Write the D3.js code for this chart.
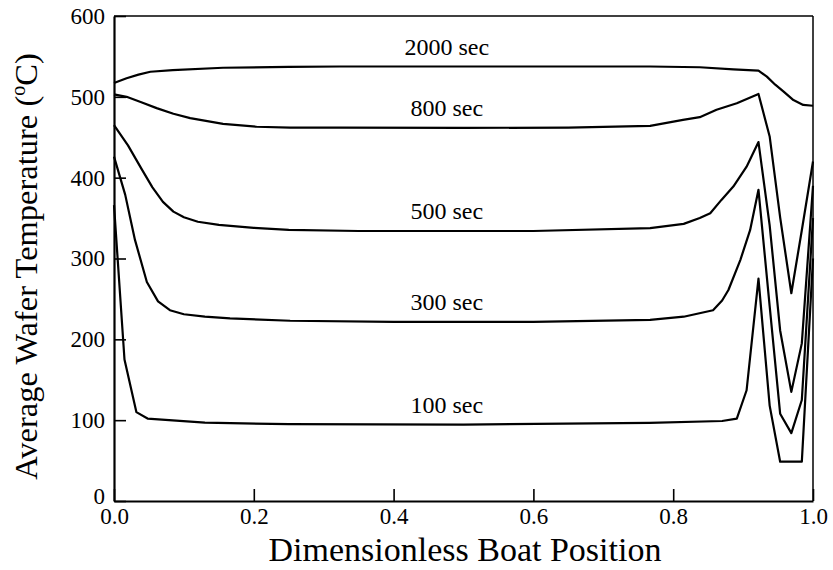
<!DOCTYPE html>
<html>
<head>
<meta charset="utf-8">
<script src="https://cdn.jsdelivr.net/npm/d3@7"></script>
<style>
  body { margin: 0; background: #fff; }
  text { font-family: "Liberation Serif", "DejaVu Serif", serif; fill: #000; }
</style>
</head>
<body>
<svg id="chart" width="833" height="570"></svg>
<script>
// Tick values and labels
const xTickValues = [0, 0.2, 0.4, 0.6, 0.8, 1.0];
const xTickLabels = ["0.0", "0.2", "0.4", "0.6", "0.8", "1.0"];
const yTickValues = [0, 100, 200, 300, 400, 500, 600];
const yTickLabels = ["0", "100", "200", "300", "400", "500", "600"];

// Series names (heating time)
const seriesNames = ["2000 sec", "800 sec", "500 sec", "300 sec", "100 sec"];

// Average wafer temperature (°C) along the boat, [position, temperature]
const t2000 = [[0,517],[0.018,523],[0.035,527.5],[0.052,531],[0.084,533],[0.156,536],[0.25,537],
  [0.323,537.5],[0.5,537.5],[0.7,537.5],[0.767,537.5],[0.838,536.6],[0.886,534],[0.922,532.5],
  [0.934,525],[0.946,515],[0.958,506.5],[0.972,496],[0.986,490],[1.0,489]];
const t800 = [[0,503],[0.018,500],[0.04,493],[0.061,486],[0.085,479],[0.109,473.6],[0.156,466.5],
  [0.204,463],[0.252,462],[0.323,462],[0.5,461.5],[0.65,462],[0.767,464],[0.814,471.5],
  [0.838,474.8],[0.862,484],[0.891,492],[0.922,503.6],[0.938,451],[0.953,351],[0.969,257],
  [0.984,335],[1.0,420]];
const t500 = [[0,465],[0.02,440],[0.04,410],[0.055,388],[0.07,370],[0.085,358],[0.1,351],
  [0.12,345.5],[0.15,341.5],[0.2,338],[0.25,335.5],[0.35,334],[0.6,334],[0.767,337.5],
  [0.815,342.8],[0.838,350],[0.853,356],[0.869,372.5],[0.886,389],[0.905,413.6],[0.922,444],
  [0.938,341],[0.953,211],[0.969,135],[0.984,195],[1.0,390]];
const t300 = [[0,426],[0.016,379],[0.03,323],[0.047,271],[0.063,247],[0.08,236],[0.1,231],
  [0.13,228],[0.166,226],[0.252,223],[0.4,221.5],[0.6,221.5],[0.767,224],[0.815,228],
  [0.857,236],[0.87,248],[0.879,261],[0.896,298],[0.91,335],[0.922,385],[0.938,241],
  [0.953,108],[0.969,84],[0.984,125],[1.0,350]];
const t100 = [[0,366],[0.015,175],[0.032,110],[0.048,102],[0.13,97],[0.25,95],[0.5,94.5],
  [0.766,96.7],[0.87,99],[0.891,102],[0.905,137],[0.922,275],[0.938,118],[0.953,48.6],
  [0.984,48.6],[1.0,300]];

const allSeries = [t2000, t800, t500, t300, t100];

const svg = d3.select("#chart");
const x = d3.scaleLinear().domain([0, 1]).range([114, 813]);
const y = d3.scaleLinear().domain([0, 600]).range([501, 16]);

// Frame
const [x0, x1] = x.range();
const [yb, yt] = y.range();
svg.append("line").attr("x1", x0).attr("x2", x1).attr("y1", yt).attr("y2", yt)
  .attr("stroke", "#000").attr("stroke-width", 1.5);
svg.append("line").attr("x1", x1).attr("x2", x1).attr("y1", yt).attr("y2", yb)
  .attr("stroke", "#000").attr("stroke-width", 1.5);

// Axes with inward ticks
const xAxis = d3.axisBottom(x).tickValues(xTickValues)
  .tickFormat((d, i) => xTickLabels[i]).tickSizeInner(-12).tickSizeOuter(0).tickPadding(7);
const yAxis = d3.axisLeft(y).tickValues(yTickValues)
  .tickFormat((d, i) => yTickLabels[i]).tickSizeInner(-12).tickSizeOuter(0).tickPadding(9);

const gx = svg.append("g").attr("transform", `translate(0,${yb})`).call(xAxis);
const gy = svg.append("g").attr("transform", `translate(${x0},0)`).call(yAxis);
[gx, gy].forEach(g => {
  g.select(".domain").attr("stroke", "#000").attr("stroke-width", 2.2);
  g.selectAll(".tick line").attr("stroke", "#000").attr("stroke-width", 1.6);
  g.selectAll(".tick text").attr("font-size", 23)
    .attr("font-family", "Liberation Serif, serif").attr("fill", "#000");
});
// The "0" label sits just above the corner
gy.selectAll(".tick text").filter(d => d === 0).attr("dy", "0.1em");

// Curves
const line = d3.line().x(d => x(d[0])).y(d => y(d[1])).curve(d3.curveLinear);
svg.append("g").selectAll("path").data(allSeries).join("path")
  .attr("d", line).attr("fill", "none").attr("stroke", "#000")
  .attr("stroke-width", 2.2).attr("stroke-linejoin", "round");

// Curve labels above the flat middle section
function valueAt(series, xv) {
  for (let i = 1; i < series.length; i++) {
    if (series[i][0] >= xv) {
      const [xa, va] = series[i - 1], [xb, vb] = series[i];
      return va + (vb - va) * (xv - xa) / (xb - xa);
    }
  }
  return series[series.length - 1][1];
}
const labelX = 0.476;
svg.append("g").selectAll("text").data(allSeries).join("text")
  .attr("x", x(labelX))
  .attr("y", s => y(valueAt(s, labelX)) - 12)
  .attr("text-anchor", "middle").attr("font-size", 24)
  .text((s, i) => seriesNames[i]);

// Axis titles
svg.append("text").attr("x", 465).attr("y", 561)
  .attr("text-anchor", "middle").attr("font-size", 34)
  .text("Dimensionless Boat Position");

const yTitle = svg.append("text")
  .attr("transform", `translate(37,${(yt + yb) / 2 + 8}) rotate(-90)`)
  .attr("text-anchor", "middle").attr("font-size", 32.5);
yTitle.append("tspan").text("Average Wafer Temperature (");
yTitle.append("tspan").attr("font-size", 20).attr("dy", -12).text("o");
yTitle.append("tspan").attr("dy", 12).text("C)");
</script>
</body>
</html>
